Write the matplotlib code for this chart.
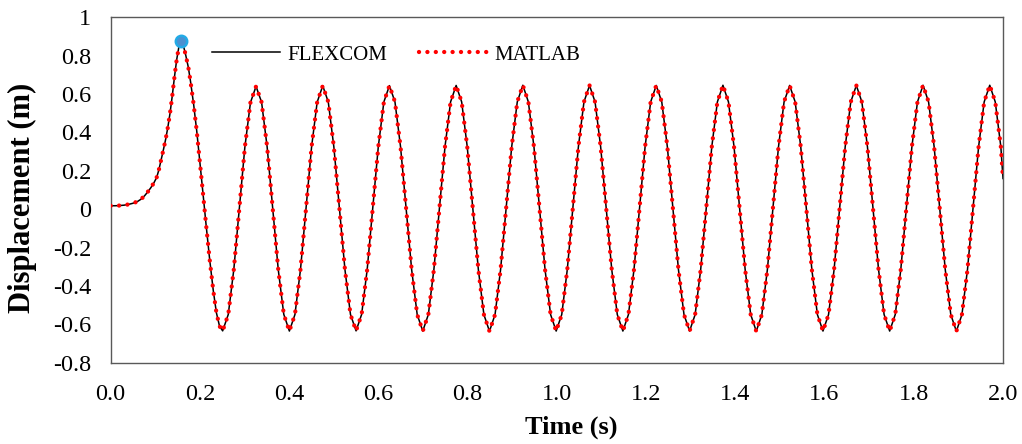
"""FLEXCOM vs MATLAB displacement time history (single-panel comparison)."""

import matplotlib

matplotlib.use("Agg")
import matplotlib.pyplot as plt

# Displacement [m] vs time [s].
flexcom_time = [
    0.000, 0.010, 0.020, 0.030, 0.040, 0.050, 0.060, 0.068, 0.076, 0.083,
    0.090, 0.097, 0.103, 0.108, 0.113, 0.118, 0.123, 0.128, 0.133, 0.138,
    0.143, 0.148, 0.153, 0.158, 0.163, 0.168, 0.174, 0.179, 0.186, 0.193,
    0.200, 0.207, 0.214, 0.222, 0.230, 0.237, 0.244,
    0.2510, 0.2635, 0.2759, 0.2884, 0.3008, 0.3133, 0.3258, 0.3382, 0.3507, 0.3631, 0.3756, 0.3880,
    0.4005, 0.4130, 0.4254, 0.4379, 0.4503, 0.4628, 0.4753, 0.4877, 0.5002, 0.5126, 0.5251, 0.5375,
    0.5500, 0.5625, 0.5749, 0.5874, 0.5998, 0.6123, 0.6248, 0.6372, 0.6497, 0.6621, 0.6746, 0.6870,
    0.6995, 0.7120, 0.7244, 0.7369, 0.7493, 0.7618, 0.7743, 0.7867, 0.7992, 0.8116, 0.8241, 0.8365,
    0.8490, 0.8615, 0.8739, 0.8864, 0.8988, 0.9113, 0.9238, 0.9362, 0.9487, 0.9611, 0.9736, 0.9860,
    0.9985, 1.0110, 1.0234, 1.0359, 1.0483, 1.0608, 1.0733, 1.0857, 1.0982, 1.1106, 1.1231, 1.1355,
    1.1480, 1.1605, 1.1729, 1.1854, 1.1978, 1.2103, 1.2228, 1.2352, 1.2477, 1.2601, 1.2726, 1.2850,
    1.2975, 1.3100, 1.3224, 1.3349, 1.3473, 1.3598, 1.3723, 1.3847, 1.3972, 1.4096, 1.4221, 1.4345,
    1.4470, 1.4595, 1.4719, 1.4844, 1.4968, 1.5093, 1.5218, 1.5342, 1.5467, 1.5591, 1.5716, 1.5840,
    1.5965, 1.6090, 1.6214, 1.6339, 1.6463, 1.6588, 1.6713, 1.6837, 1.6962, 1.7086, 1.7211, 1.7335,
    1.7460, 1.7585, 1.7709, 1.7834, 1.7958, 1.8083, 1.8208, 1.8332, 1.8457, 1.8581, 1.8706, 1.8830,
    1.8955, 1.9080, 1.9204, 1.9329, 1.9453, 1.9578, 1.9703, 1.9827, 1.9952, 2.0000,
]
flexcom_disp = [
    0.018, 0.018, 0.019, 0.021, 0.025, 0.031, 0.040, 0.052, 0.070, 0.090,
    0.112, 0.138, 0.165, 0.205, 0.256, 0.308, 0.362, 0.425, 0.500, 0.590,
    0.690, 0.780, 0.848, 0.878, 0.852, 0.805, 0.740, 0.665, 0.545, 0.405,
    0.245, 0.080, -0.085, -0.265, -0.425, -0.540, -0.610,
    -0.634, -0.549, -0.316, 0.004, 0.324, 0.556, 0.640, 0.558, 0.324, 0.005, -0.315, -0.548,
    -0.635, -0.549, -0.315, 0.005, 0.325, 0.558, 0.643, 0.559, 0.325, 0.005, -0.315, -0.549,
    -0.634, -0.548, -0.315, 0.005, 0.325, 0.559, 0.644, 0.559, 0.325, 0.005, -0.315, -0.549,
    -0.635, -0.549, -0.315, 0.005, 0.325, 0.559, 0.645, 0.559, 0.325, 0.005, -0.315, -0.549,
    -0.636, -0.549, -0.315, 0.005, 0.325, 0.559, 0.646, 0.559, 0.325, 0.005, -0.315, -0.549,
    -0.635, -0.549, -0.315, 0.005, 0.325, 0.559, 0.645, 0.559, 0.325, 0.005, -0.315, -0.549,
    -0.635, -0.549, -0.315, 0.005, 0.325, 0.559, 0.645, 0.559, 0.325, 0.005, -0.315, -0.549,
    -0.635, -0.549, -0.315, 0.005, 0.325, 0.559, 0.646, 0.559, 0.325, 0.005, -0.315, -0.549,
    -0.636, -0.549, -0.315, 0.005, 0.325, 0.559, 0.645, 0.559, 0.325, 0.005, -0.315, -0.549,
    -0.635, -0.549, -0.315, 0.005, 0.325, 0.559, 0.645, 0.559, 0.325, 0.005, -0.315, -0.549,
    -0.635, -0.549, -0.315, 0.005, 0.325, 0.559, 0.646, 0.559, 0.325, 0.005, -0.315, -0.549,
    -0.636, -0.549, -0.315, 0.005, 0.325, 0.559, 0.646, 0.559, 0.325, 0.160,
]
# MATLAB solution overlays FLEXCOM to within line width.
matlab_time = flexcom_time
matlab_disp = flexcom_disp

# first (transient) peak, highlighted
peak_time = [0.158]
peak_disp = [0.878]

x_ticks = [0.0, 0.2, 0.4, 0.6, 0.8, 1.0, 1.2, 1.4, 1.6, 1.8, 2.0]
x_tick_labels = ["0.0", "0.2", "0.4", "0.6", "0.8", "1.0", "1.2", "1.4", "1.6", "1.8", "2.0"]
y_ticks = [-0.8, -0.6, -0.4, -0.2, 0.0, 0.2, 0.4, 0.6, 0.8, 1.0]
y_tick_labels = ["-0.8", "-0.6", "-0.4", "-0.2", "0", "0.2", "0.4", "0.6", "0.8", "1"]


def main() -> None:
    plt.rcParams["font.family"] = ["Liberation Serif", "DejaVu Serif"]

    fig = plt.figure(figsize=(10.22, 4.44), dpi=100)
    ax = fig.add_axes([0.1083, 0.1831, 0.8731, 0.7779])

    ax.plot(flexcom_time, flexcom_disp, color="black", lw=1.1, label="FLEXCOM", zorder=2)
    ax.plot(
        matlab_time,
        matlab_disp,
        color="#ff0000",
        lw=3.1,
        linestyle=(0, (0.01, 1.94)),
        dash_capstyle="round",
        label="MATLAB",
        zorder=3,
    )
    ax.plot(
        peak_time,
        peak_disp,
        "o",
        ms=8.2,
        mfc="#4a90d0",
        mec="#22aae6",
        mew=1.8,
        zorder=4,
    )

    ax.set_xlim(0.0, 2.0)
    ax.set_ylim(-0.8, 1.0)
    ax.set_xticks(x_ticks, x_tick_labels)
    ax.set_yticks(y_ticks, y_tick_labels)
    ax.tick_params(axis="both", length=0, labelsize=17.5)
    ax.tick_params(axis="y", pad=14)
    ax.tick_params(axis="x", pad=15.5)

    for sp in ax.spines.values():
        sp.set_color("#595959")
        sp.set_linewidth(1.0)

    ax.set_xlabel("Time (s)", fontsize=19, fontweight="bold")
    ax.xaxis.set_label_coords(0.516, -0.152)
    ax.set_ylabel("Displacement (m)", fontsize=22, fontweight="bold")
    ax.yaxis.set_label_coords(-0.083, 0.477)

    ax.legend(
        loc="center left",
        bbox_to_anchor=(212 / 1022, 1 - 55 / 444),
        bbox_transform=fig.transFigure,
        ncol=2,
        frameon=False,
        fontsize=15,
        handlelength=3.25,
        handletextpad=0.35,
        columnspacing=1.55,
        borderpad=0,
        borderaxespad=0,
    )

    fig.savefig("out.png", dpi=100)


if __name__ == "__main__":
    main()
